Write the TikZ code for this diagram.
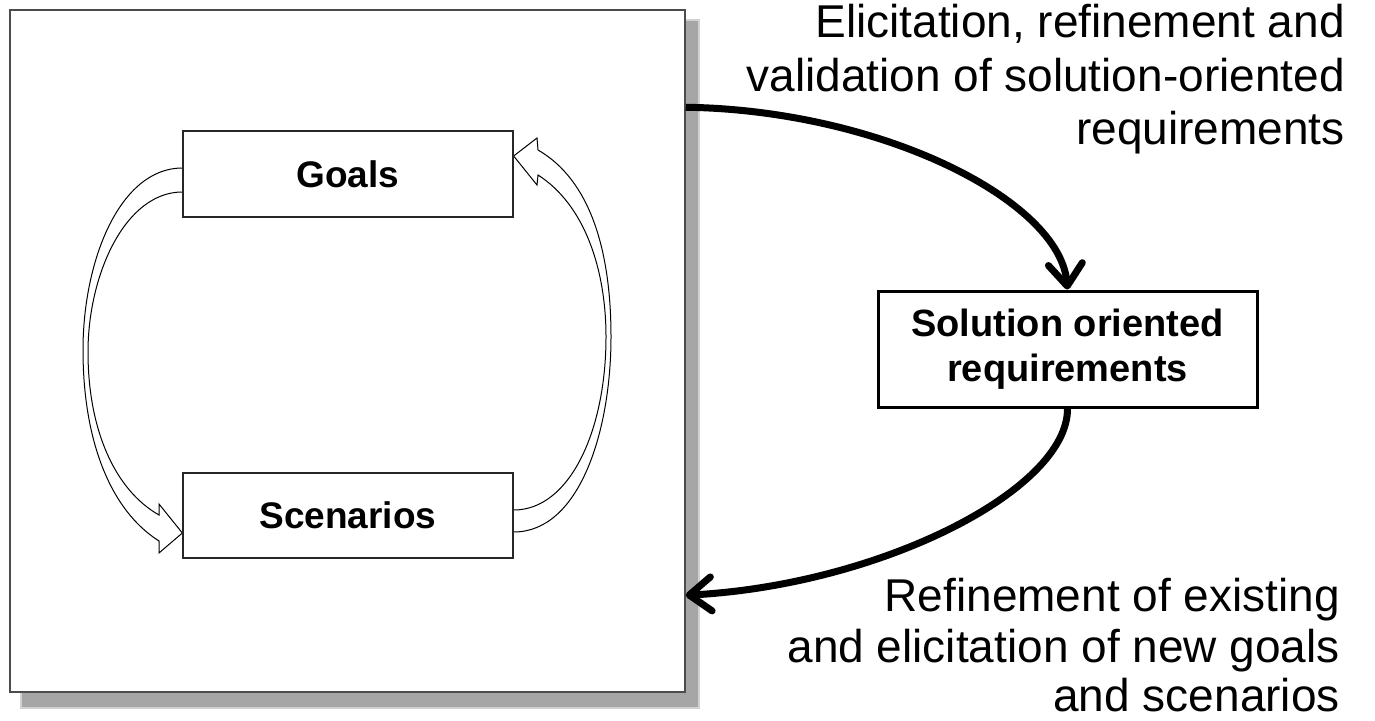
\documentclass[tikz,border=0pt]{standalone}
\usepackage{fontspec}
\setmainfont{Liberation Sans}
\usetikzlibrary{arrows.meta,calc}
\pgfdeclarelayer{back}
\pgfdeclarelayer{mid}
\pgfsetlayers{back,mid,main}
\begin{document}
\begin{tikzpicture}[x=1pt,y=-1pt,
  box/.style={draw=black!85,line width=1.3pt,fill=white,minimum width=330pt,inner sep=0pt,font=\fontsize{37}{44}\selectfont\bfseries},
  hollow/.style={draw=black,line width=1pt,fill=white,line join=miter},
  bigarrow/.style={line width=7pt,-{Straight Barb[length=22pt,width=34pt,round]}},
  lbl/.style={anchor=base east,inner sep=0pt,font=\fontsize{46}{54}\selectfont}]
\useasboundingbox (0,0) rectangle (1375,720);
\begin{pgfonlayer}{back}
\fill[black!18] (20,19) rectangle (700,709);
\fill[black!35] (22,21) rectangle (698,707);
\node[draw=black!70,line width=1.5pt,fill=white,minimum width=675pt,minimum height=682pt,inner sep=0pt] (frame) at (347.5,351) {};
\end{pgfonlayer}
\node[box,minimum height=86pt] (goals) at (348,174) {Goals};
\node[box,minimum height=85pt] (scen) at (348,515.5) {Scenarios};
\node[draw,line width=3pt,minimum width=379pt,minimum height=116pt,inner sep=0pt,align=center,font=\fontsize{38}{45}\selectfont\bfseries] (sol) at (1067.5,349) {Solution oriented\\requirements};
\begin{pgfonlayer}{mid}
\draw[hollow] ($(goals.west)+(0,-6)$) .. controls (120,168) and (83,260) .. (83,350) .. controls (83,440) and (110,510) .. (159,541) -- (159,553) -- ($(scen.west)+(0,17.5)$) -- (159,504) -- (159,515) .. controls (115,490) and (88,430) .. (88,352) .. controls (88,275) and (125,192) .. ($(goals.west)+(0,18)$);
\draw[hollow] ($(scen.east)+(0,16.5)$) .. controls (580,532) and (611,430) .. (611,337) .. controls (611,250) and (590,180) .. (538,150) -- (537,138) -- ($(goals.east)+(0,-18)$) -- (537,185) -- (538,175) .. controls (585,205) and (606,270) .. (606,337) .. controls (606,430) and (570,510) .. ($(scen.east)+(0,-5.5)$);
\end{pgfonlayer}
\draw[bigarrow] ($(frame.north east)+(0,98)$) .. controls (880,110) and (1060,200) .. (sol.north);
\draw[bigarrow] (sol.south) .. controls (1068,490) and (880,585) .. ($(frame.north east)+(0,586)$);
\node[lbl] (t1) at (1345,37) {Elicitation, refinement and};
\node[lbl] (t2) at (1345,91) {validation of solution-oriented};
\node[lbl] (t3) at (1345,144) {requirements};
\node[lbl] (b1) at (1340,611) {Refinement of existing};
\node[lbl] (b2) at (1340,662) {and elicitation of new goals};
\node[lbl] (b3) at (1340,711) {and scenarios};
\end{tikzpicture}
\end{document}
